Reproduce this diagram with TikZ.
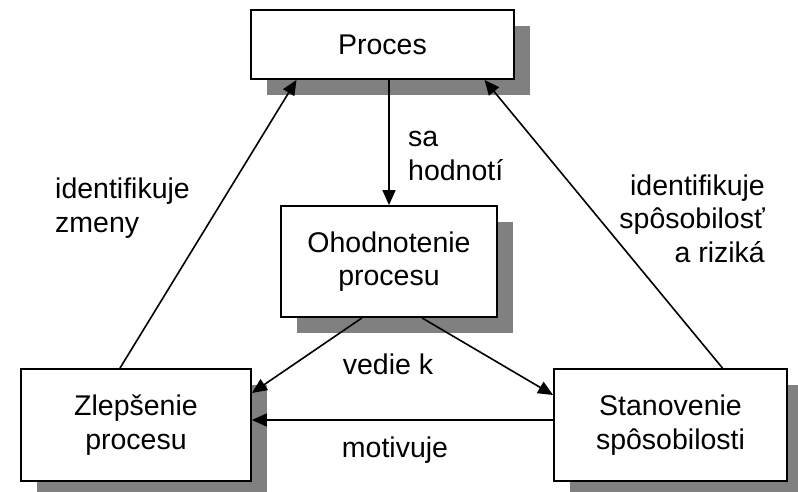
\documentclass[tikz,border=0pt]{standalone}
\usepackage{fontspec}
\setmainfont{Liberation Sans}
\usetikzlibrary{arrows.meta,shadows}

\tikzset{
    procbox/.style={draw, line width=1.8pt, fill=white, align=center, inner sep=0pt,
        drop shadow={shadow xshift=16pt, shadow yshift=-16pt, fill=black!50, opacity=1}},
    flow/.style={-{Triangle[length=15pt, width=13pt]}, line width=1.6pt},
    lbl/.style={inner sep=0pt}
}

\begin{document}
\begin{tikzpicture}[x=1pt, y=-1pt, font=\fontsize{28.5}{33.5}\selectfont]
    \useasboundingbox (0,0) rectangle (798,492);
    \node (proc) [procbox, minimum width=263pt, minimum height=69pt] at (382.5,44.5) {Proces};
    \node (ohod) [procbox, minimum width=216pt, minimum height=111pt] at (389,261.5) {Ohodnotenie\\procesu};
    \node (zlep) [procbox, minimum width=230pt, minimum height=112pt] at (136,425) {Zlepšenie\\procesu};
    \node (stan) [procbox, minimum width=233pt, minimum height=112pt] at (670.5,425) {Stanovenie\\spôsobilosti};
    \draw[flow] (proc.south -| ohod.north) -- (ohod.north);
    \draw[flow] ([xshift=-16pt]zlep.north) -- ([xshift=-86pt]proc.south);
    \draw[flow] ([xshift=52pt]stan.north) -- ([xshift=102pt]proc.south);
    \draw[flow] ([xshift=-27pt]ohod.south) -- ([yshift=32pt]zlep.east);
    \draw[flow] ([xshift=33pt]ohod.south) -- ([yshift=30pt]stan.west);
    \draw[flow] ([yshift=5pt]stan.west) -- ([yshift=5pt]zlep.east);
    % labels
    \node (hodn) [lbl, align=left, anchor=base west] at (408,180) {sa\\hodnotí};
    \node (zmen) [lbl, align=left, anchor=base west] at (55,232) {identifikuje\\zmeny};
    \node (rizk) [lbl, align=right, anchor=base east] at (765,262) {identifikuje\\spôsobilosť\\a riziká};
    \node (vedi) [lbl, anchor=base] at (388,374) {vedie k};
    \node (motv) [lbl, anchor=base] at (395,457) {motivuje};
\end{tikzpicture}
\end{document}
